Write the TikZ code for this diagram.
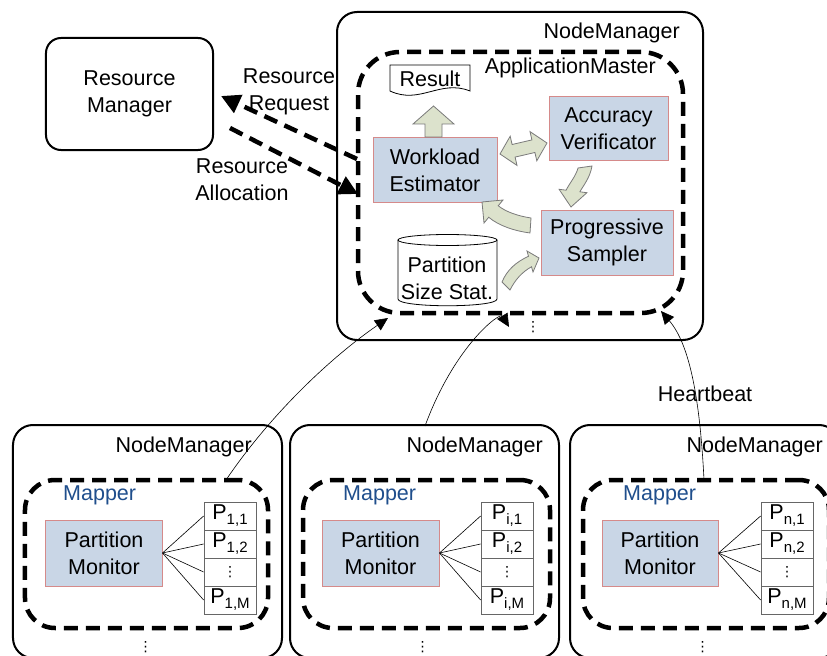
\documentclass[tikz,border=0pt]{standalone}
\usepackage{fontspec}
\setmainfont{Liberation Sans}
\newfontfamily\dejavu{DejaVu Sans}
\usetikzlibrary{arrows.meta}
\definecolor{boxfill}{HTML}{C9D6E6}
\definecolor{boxline}{HTML}{D58A8A}
\definecolor{arrfill}{HTML}{DCE2CC}
\definecolor{arrline}{HTML}{7A7A7A}
\definecolor{mapblue}{HTML}{1F4E8C}
\newcommand{\Psub}[1]{P\raisebox{-5bp}{\fontsize{15bp}{15bp}\selectfont #1}}
\newcommand{\vdotsym}{{\dejavu\fontsize{14bp}{14bp}\selectfont ⋮}}
\begin{document}
\begin{tikzpicture}[x=1bp,y=-1bp,
  every node/.style={font=\fontsize{21.5bp}{27bp}\selectfont, inner sep=0pt, align=center},
  solidbox/.style={draw, line width=2bp, rounded corners=#1},
  dashbox/.style={draw, line width=4.5bp, dash pattern=on 14bp off 8bp, rounded corners=#1},
  bluebox/.style={draw=boxline, fill=boxfill, line width=1bp},
  cell/.style={draw=black!60, line width=0.8bp, minimum width=52bp, minimum height=28bp},
  blockarrow/.style={draw=arrline, fill=arrfill, line width=0.8bp},
  thinline/.style={line width=0.6bp},
  thinarrow/.style={line width=0.6bp, -{Triangle[length=13bp,width=12bp]}},
  dasharrow/.style={line width=4.5bp, dash pattern=on 14bp off 8bp, -{Triangle[length=19bp,width=19bp]}},
  docshape/.style={draw, line width=0.8bp, fill=white}
]
\useasboundingbox (0,0) rectangle (827,656);

% ---------- top NodeManager ----------
\node[solidbox=20bp, minimum width=366bp, minimum height=328bp] (nmtop) at (520,176) {};
\node[anchor=east] (nmtoplbl) at (680,33) {NodeManager};
\node[dashbox=42bp, minimum width=325bp, minimum height=261bp] (am) at (520.5,182.5) {};
\node[anchor=east] (amlbl) at (656,68) {ApplicationMaster};

% Resource Manager
\node[solidbox=15bp, minimum width=167bp, minimum height=112bp] (rm) at (129.5,94) {Resource\\Manager};

% Result document
\draw[docshape] (390,65) -- (470,65) -- (470,91) .. controls (440,79) and (420,105) .. (390,91) -- cycle;
\node (result) at (430,79) {Result};

% blue boxes
\node[bluebox, minimum width=124bp, minimum height=64bp] (we) at (435,170) {Workload\\Estimator};
\node[bluebox, minimum width=119bp, minimum height=63bp] (av) at (608.5,128.5) {Accuracy\\Verificator};
\node[bluebox, minimum width=132bp, minimum height=65bp] (ps) at (607,242.5) {Progressive\\Sampler};

% cylinder
\draw[docshape] (398,240) -- (398,299) .. controls (398,308) and (497,308) .. (497,299) -- (497,240);
\draw[line width=0.8bp] (447.5,240) ellipse [x radius=49.5bp, y radius=5.5bp];
\node (pss) at (447,278) {Partition\\Size Stat.};

% block arrows
\draw[blockarrow] (425,137) -- (425,124) -- (413,124) -- (433.5,106) -- (454,124) -- (442,124) -- (442,137) -- cycle;
\draw[blockarrow] (500,154) -- (517.0,165.4) -- (515.1,157.1) -- (534.9,152.5) -- (536.8,160.8) -- (547,143)
   -- (530.0,131.6) -- (531.9,139.9) -- (512.1,144.5) -- (510.2,136.2) -- cycle;
\draw[blockarrow] (578,168) -- (592,166) .. controls (590,178) and (583,186) .. (579.9,191.8) -- (586.9,192.7)
   -- (571,207) -- (559.1,189.3) -- (566.1,190.2) .. controls (569,184) and (576,176) .. (578,168) -- cycle;
\draw[blockarrow] (531,218) -- (530,233) .. controls (515,231) and (499,226) .. (488.75,217.25) -- (484,223)
   -- (482,202) -- (503,200) -- (498.25,205.75) .. controls (506,212) and (518,216) .. (531,218) -- cycle;
\draw[blockarrow] (502,282) -- (510,290) .. controls (515,280) and (522,272) .. (531.5,266.8) -- (533,272)
   -- (539,258) -- (527,251) -- (528.5,256.3) .. controls (516,262) and (507,270) .. (502,282) -- cycle;

\node (amdots) at (533,327) {\vdotsym};

% resource request / allocation
\coordinate (reqs) at (357,159);
\coordinate (reqe) at (221,96);
\coordinate (alls) at (230,128);
\coordinate (alle) at (358,194);
\draw[dasharrow] (reqs) -- (reqe);
\draw[dasharrow] (alls) -- (alle);
\node (reqlbl) at (289,92) {Resource\\Request};
\node (alllbl) at (242,180) {Resource\\Allocation};

% ---------- bottom NodeManagers ----------
\foreach \i/\bx/\lx/\mx/\mw/\mlx/\pmx/\pmw/\tx/\sub in {
  1/147.5/252/146.5/243/63/104/116/230/1,
  2/424.5/543/426.5/247/343/380.5/117/507/i,
  3/704.5/823/706/246/623/660/116/787/n}{
  \node[solidbox=20bp, minimum width=269bp, minimum height=233bp] (nm\i) at (\bx,541.5) {};
  \node[anchor=east] (nml\i) at (\lx,447) {NodeManager};
  \node[dashbox=30bp, minimum width=\mw bp, minimum height=148bp] (map\i) at (\mx,554) {};
  \node[anchor=west, text=mapblue] (mapl\i) at (\mlx,495) {Mapper};
  \node[bluebox, minimum width=\pmw bp, minimum height=66bp] (pm\i) at (\pmx,553) {Partition\\Monitor};
  \node[cell] (c\i-a) at (\tx,516) {\Psub{\sub,1}};
  \node[cell] (c\i-b) at (\tx,544) {\Psub{\sub,2}};
  \node[cell] (c\i-c) at (\tx,572) {\vdotsym};
  \node[cell] (c\i-d) at (\tx,600) {\Psub{\sub,M}};
  \foreach \r in {a,b,c,d} \draw[thinline] (pm\i.east) -- (c\i-\r.west);
  \node (nmd\i) at (\bx-2,647) {\vdotsym};
}

% heartbeats
\coordinate (hb1s) at (226,480);
\coordinate (hb1e) at (388,318);
\coordinate (hb2s) at (425,426);
\coordinate (hb2e) at (509,327);
\coordinate (hb3s) at (704,480);
\coordinate (hb3e) at (661,311);
\draw[thinarrow] (hb1s) .. controls (270,415) and (330,358) .. (hb1e);
\draw[thinarrow] (hb2s) .. controls (455,345) and (500,312) .. (hb2e);
\draw[thinarrow] (hb3s) .. controls (700,400) and (690,345) .. (hb3e);
\node (hblbl) at (705,394) {Heartbeat};
\end{tikzpicture}
\end{document}
